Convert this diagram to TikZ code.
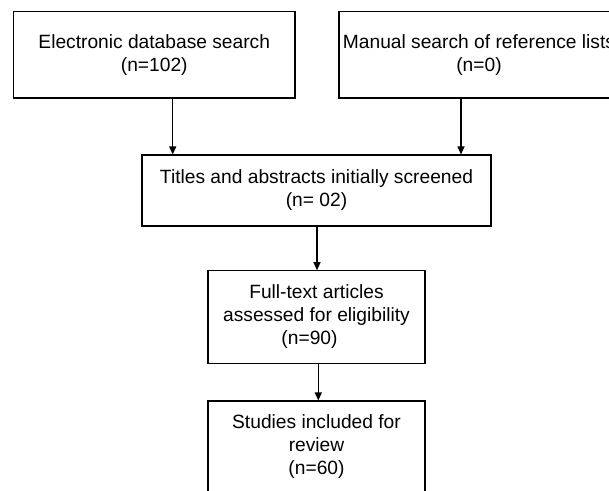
\documentclass[tikz,border=0pt]{standalone}
\usepackage{fontspec}
\setmainfont{Liberation Sans}
\usetikzlibrary{arrows.meta}
\begin{document}
\begin{tikzpicture}[x=1pt,y=-1pt,
  box/.style={draw=black,line width=1.1pt,rectangle,inner sep=0pt,align=center,
    font=\fontsize{19.2}{23}\selectfont},
  arr/.style={draw=black,line width=1.1pt,-{Triangle[length=8pt,width=7pt]}}]
\useasboundingbox (0,0) rectangle (609,490);
\clip (0,0) rectangle (609,490);
\fill[white] (0,0) rectangle (609,490);
\node[box,minimum width=281.5pt,minimum height=86.3pt] (a) at (154.25,54.85)
  {Electronic database search\\(n=102)};
\node[box,minimum width=280pt,minimum height=86.3pt] (b) at (479,54.85)
  {Manual search of reference lists\\(n=0)};
\node[box,minimum width=349pt,minimum height=71pt] (c) at (316.5,190.5)
  {Titles and abstracts initially screened\\(n= 02)};
\node[box,minimum width=217pt,minimum height=92.5pt] (d) at (316.5,317)
  {Full-text articles\\assessed for eligibility\\(n=90)\hspace*{14pt}};
\node[box,minimum width=217pt,minimum height=91pt] (e) at (316.5,446.5)
  {Studies included for\\review\\(n=60)};
\coordinate (x1) at (172.7,0);
\coordinate (x2) at (461,0);
\coordinate (x3) at (317,0);
\coordinate (x4) at (318.3,0);
\draw[arr] (a.south -| x1) -- (c.north -| x1);
\draw[arr] (b.south -| x2) -- (c.north -| x2);
\draw[arr] (c.south -| x3) -- (d.north -| x3);
\draw[arr] (d.south -| x4) -- (e.north -| x4);
\end{tikzpicture}
\end{document}
